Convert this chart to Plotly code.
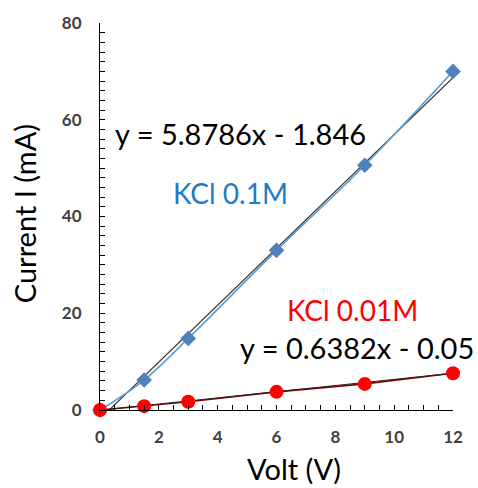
import plotly.graph_objects as go

# Measured current vs applied voltage for two KCl concentrations
volts = [0, 1.5, 3, 6, 9, 12]
current_01M = [0, 6.2, 14.8, 33.0, 50.6, 70.0]
current_001M = [0, 0.8, 1.7, 3.75, 5.4, 7.6]

# Linear fit coefficients (slope, intercept)
fit_01M = (5.8786, -1.846)
fit_001M = (0.6382, -0.05)

x_ticks = [0, 2, 4, 6, 8, 10, 12]
y_ticks = [0, 20, 40, 60, 80]

FONT = "Lato"

fig = go.Figure()

# Fit lines evaluated over the voltage range
fx = [0, 0.25, 0.5, 1, 2, 4, 6, 8, 10, 12]
fig.add_trace(go.Scatter(
    x=fx, y=[fit_01M[0] * v + fit_01M[1] for v in fx], mode="lines",
    line=dict(color="#333333", width=1.2), showlegend=False, hoverinfo="skip"))

fig.add_trace(go.Scatter(
    x=volts, y=current_01M, mode="lines+markers", line_shape="spline",
    line=dict(color="#5b9bd5", width=1.6),
    marker=dict(symbol="diamond", size=12, color="#4f81bd"),
    cliponaxis=False, showlegend=False))

fig.add_trace(go.Scatter(
    x=volts, y=current_001M, mode="lines", line=dict(color="#8b0000", width=1.6),
    showlegend=False, hoverinfo="skip"))
fig.add_trace(go.Scatter(
    x=fx, y=[fit_001M[0] * v + fit_001M[1] for v in fx], mode="lines",
    line=dict(color="#222222", width=1), showlegend=False, hoverinfo="skip"))
fig.add_trace(go.Scatter(
    x=volts, y=current_001M, mode="markers",
    marker=dict(symbol="circle", size=14, color="#ff0000"),
    cliponaxis=False, showlegend=False))

ann = [
    ("y = 5.8786x - 1.846", 0.45, 57.2, "black", 29),
    ("KCl 0.1M", 2.4, 44.9, "#1f7ac8", 28),
    ("KCl 0.01M", 6.3, 20.7, "#ff0000", 28),
    ("y = 0.6382x - 0.05", 4.7, 12.9, "black", 29),
]
for text, ax_x, ax_y, col, sz in ann:
    fig.add_annotation(x=ax_x, y=ax_y, text=text, showarrow=False,
                       xanchor="left", yanchor="middle",
                       font=dict(family=FONT, size=sz, color=col))

# Axis titles placed as paper-anchored labels
fig.add_annotation(text="Volt (V)", xref="paper", yref="paper", x=0.55, y=-0.152,
                   xanchor="center", yanchor="middle", showarrow=False,
                   font=dict(family=FONT, size=29, color="black"))
fig.add_annotation(text="Current I (mA)", xref="paper", yref="paper", x=-0.213, y=0.508,
                   xanchor="center", yanchor="middle", showarrow=False, textangle=-90,
                   font=dict(family=FONT, size=29, color="black"))

axis_common = dict(
    showgrid=False, zeroline=False, showline=True, linecolor="black", linewidth=1,
    ticks="inside", ticklen=5, tickcolor="black", mirror=False,
    tickfont=dict(family=FONT, size=17, color="#404040", weight="bold"),
)
fig.update_xaxes(range=[0, 12], tickvals=x_ticks, ticklabelstandoff=12,
                 minor=dict(ticks="inside", ticklen=5, dtick=0.5, tickcolor="black"),
                 **axis_common)
fig.update_yaxes(range=[0, 80], tickvals=y_ticks, ticklabelstandoff=14,
                 minor=dict(ticks="inside", ticklen=5, dtick=2, tickcolor="black"),
                 **axis_common)

fig.update_layout(
    width=478, height=488, plot_bgcolor="white", paper_bgcolor="white",
    margin=dict(l=100, r=25, t=19, b=78),
)

fig.write_html("out.html")
